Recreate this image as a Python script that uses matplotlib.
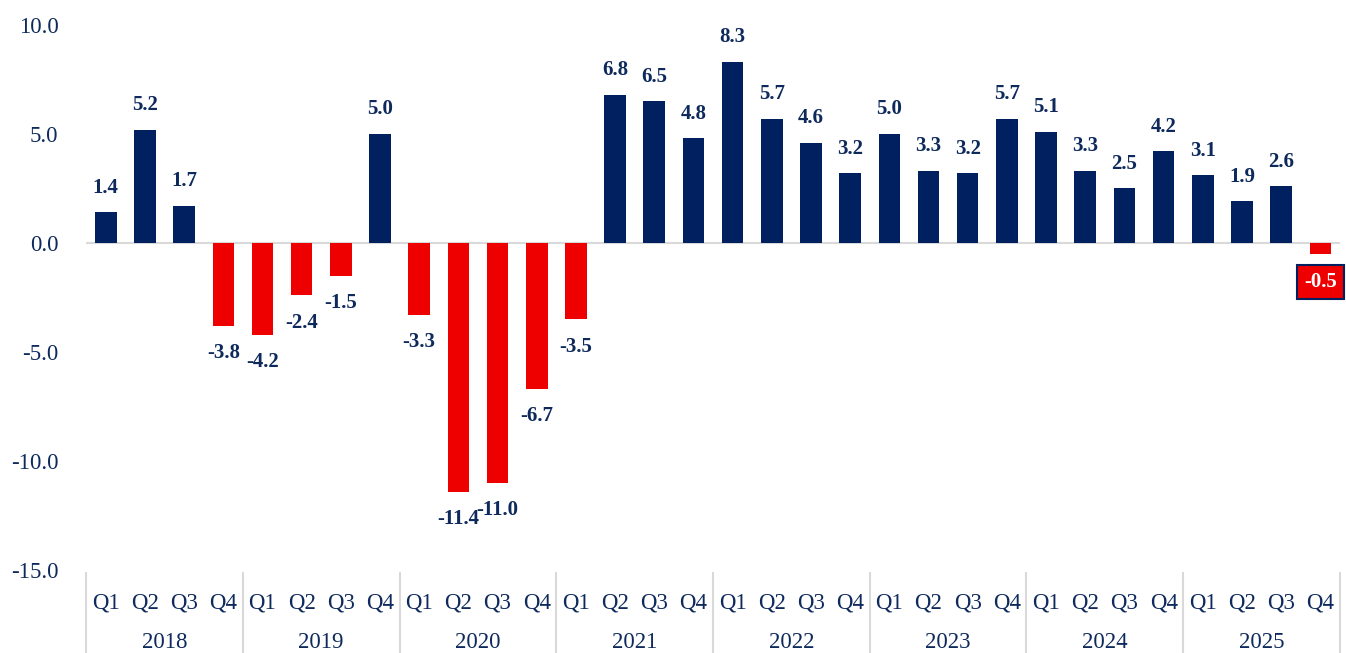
import numpy as np
from matplotlib import pyplot as plt

years = ['2018', '2019', '2020', '2021', '2022', '2023', '2024', '2025']
quarters = ['Q1', 'Q2', 'Q3', 'Q4']
values = [1.4, 5.2, 1.7, -3.8,
          -4.2, -2.4, -1.5, 5.0,
          -3.3, -11.4, -11.0, -6.7,
          -3.5, 6.8, 6.5, 4.8,
          8.3, 5.7, 4.6, 3.2,
          5.0, 3.3, 3.2, 5.7,
          5.1, 3.3, 2.5, 4.2,
          3.1, 1.9, 2.6, -0.5]

navy = '#002060'
red = '#EE0000'
txt = '#0E2A5C'

plt.rcParams['font.family'] = ['Liberation Serif', 'DejaVu Serif']

fig = plt.figure(figsize=(13.46, 6.53), dpi=100)
ax = fig.add_axes([0.064, 0.127, 0.9315, 0.835])

x = np.arange(len(values))
colors = [navy if v >= 0 else red for v in values]
ax.bar(x, values, width=0.55, color=colors, zorder=2)
ax.axhline(0, color='#D9D9D9', lw=1.5, zorder=1)

ax.set_xlim(-0.5, len(values) - 0.5)
ax.set_ylim(-15, 10)
ax.set_yticks([-15, -10, -5, 0, 5, 10])
ax.set_yticklabels([f'{t:.1f}' for t in [-15, -10, -5, 0, 5, 10]], fontsize=16.5, color=txt)
ax.tick_params(axis='y', length=0, pad=20)
ax.set_xticks([])
for s in ax.spines.values():
    s.set_visible(False)

for i, v in enumerate(values):
    if i == len(values) - 1:
        ax.annotate(f'{v:.1f}', (i, v), xytext=(0, -13), textcoords='offset points',
                    ha='center', va='top', fontsize=15, fontweight='bold', color='white',
                    bbox=dict(boxstyle='square,pad=0.35', fc=red, ec=navy, lw=1.5))
    elif v >= 0:
        ax.annotate(f'{v:.1f}', (i, v), xytext=(0, 10.5), textcoords='offset points',
                    ha='center', va='bottom', fontsize=15, fontweight='bold', color=txt)
    else:
        ax.annotate(f'{v:.1f}', (i, v), xytext=(0, -12.5), textcoords='offset points',
                    ha='center', va='top', fontsize=15, fontweight='bold', color=txt)

tr = ax.get_xaxis_transform()
for i in range(len(values)):
    ax.text(i, -0.06, quarters[i % 4], transform=tr, ha='center', va='center',
            fontsize=16.5, color=txt, clip_on=False)
for j, y in enumerate(years):
    ax.text(j * 4 + 1.5, -0.133, y, transform=tr, ha='center', va='center',
            fontsize=16.5, color=txt, clip_on=False)
for j in range(len(years) + 1):
    ax.plot([j * 4 - 0.5, j * 4 - 0.5], [-0.005, -0.16], transform=tr,
            color='#D9D9D9', lw=1.5, clip_on=False)

fig.savefig('out.png', dpi=100)
